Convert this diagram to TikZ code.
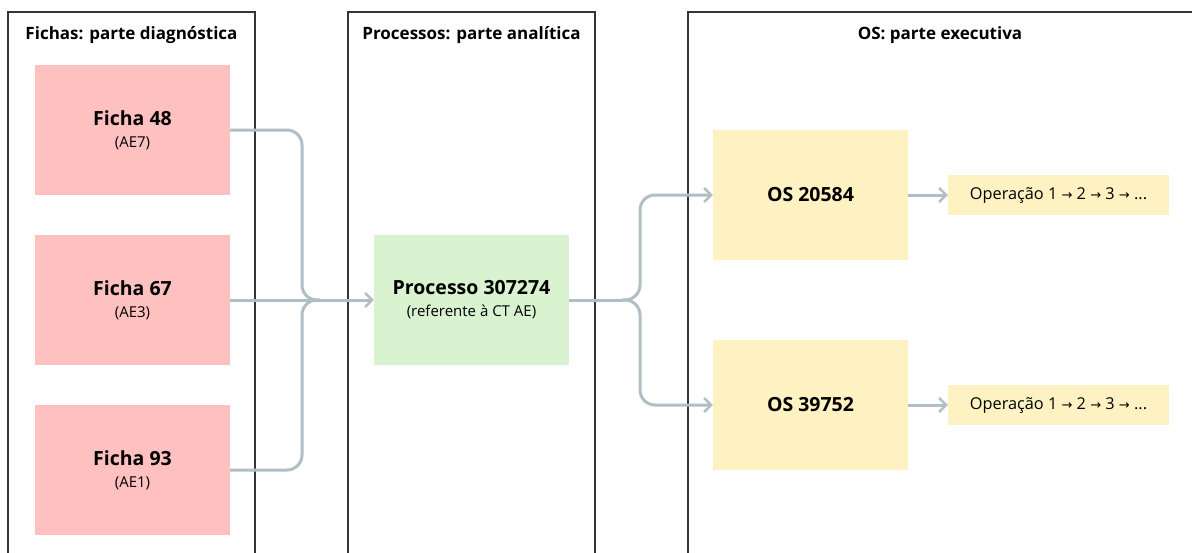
\documentclass[tikz,border=0pt]{standalone}
\usepackage{fontspec}
\setmainfont{Open Sans}
\newfontfamily\arrowfont{DejaVu Sans}
\usetikzlibrary{arrows.meta,positioning}
\definecolor{fichared}{RGB}{255,192,192}
\definecolor{procgreen}{RGB}{217,242,208}
\definecolor{osyellow}{RGB}{255,242,194}
\definecolor{conngray}{RGB}{176,190,197}
\definecolor{lanegray}{RGB}{51,52,53}
\newcommand{\nxt}{{\arrowfont\fontsize{13}{14}\selectfont →}}
\newcommand{\cardtitle}[1]{{\bfseries\fontsize{19.5}{22}\selectfont #1}}

\begin{document}
\begin{tikzpicture}[x=1pt,y=-1pt,
    lane/.style={draw=lanegray,line width=1.2pt},
    lanetitle/.style={font=\bfseries\fontsize{17}{20}\selectfont},
    card/.style={minimum width=195pt,minimum height=130pt,inner sep=0pt,align=center,
        font=\fontsize{15}{22}\selectfont},
    ficha/.style={card,fill=fichared},
    proc/.style={card,fill=procgreen},
    osbox/.style={card,fill=osyellow},
    opbox/.style={fill=osyellow,minimum width=221pt,minimum height=40pt,inner sep=0pt,
        font=\fontsize{16.3}{18}\selectfont},
    conn/.style={draw=conngray,line width=3pt,rounded corners=15pt},
    tip/.style={-{Straight Barb[length=7pt,width=14pt,line width=2.5pt]}}
]
    \useasboundingbox (0,0) rectangle (1192,552);

    % lanes
    \draw[lane] (8,560) |- (255,12) -- (255,560);
    \draw[lane] (348,560) |- (595,12) -- (595,560);
    \draw[lane] (688,560) |- (1200,12);
    \node[lanetitle] (t1) at (131.5,35) {Fichas: parte diagnóstica};
    \node[lanetitle] (t2) at (471.5,35) {Processos: parte analítica};
    \node[lanetitle] (t3) at (940,35) {OS: parte executiva};

    % fichas
    \node[ficha] (f48) at (132.5,130) {\cardtitle{Ficha 48}\\(AE7)};
    \node[ficha] (f67) at (132.5,300) {\cardtitle{Ficha 67}\\(AE3)};
    \node[ficha] (f93) at (132.5,470) {\cardtitle{Ficha 93}\\(AE1)};

    % processo
    \node[proc] (p) at (471.5,300) {\cardtitle{Processo 307274}\\(referente à CT AE)};

    % ordens de servico
    \node[osbox] (os1) at (810.5,195) {\cardtitle{OS 20584}};
    \node[osbox] (os2) at (810.5,405) {\cardtitle{OS 39752}};
    \node[opbox] (op1) at (1058.5,195) {Operação 1 \nxt{} 2 \nxt{} 3 \nxt{} ...};
    \node[opbox] (op2) at (1058.5,405) {Operação 1 \nxt{} 2 \nxt{} 3 \nxt{} ...};

    % connectors
    \coordinate (join) at (320,300);
    \coordinate (split) at (622,300);
    \draw[conn] (f48.east) -| ([xshift=-18pt]join) -- (join);
    \draw[conn] (f93.east) -| ([xshift=-18pt]join) -- (join);
    \draw[conn] (f67.east) -- (join);
    \draw[conn,tip] (join) -- (p.west);
    \draw[conn] (p.east) -- (split);
    \draw[conn,tip] (split) -- ([xshift=18pt]split) |- (os1.west);
    \draw[conn,tip] (split) -- ([xshift=18pt]split) |- (os2.west);
    \draw[conn,tip] (os1.east) -- (op1.west);
    \draw[conn,tip] (os2.east) -- (op2.west);
\end{tikzpicture}
\end{document}
